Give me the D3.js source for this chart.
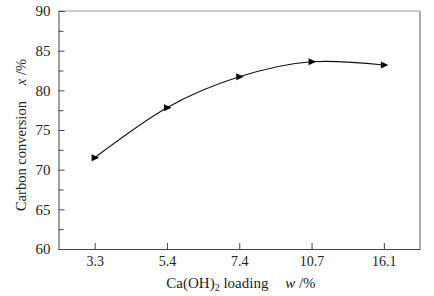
<!DOCTYPE html>
<html>
<head>
<meta charset="utf-8">
<script src="https://cdn.jsdelivr.net/npm/d3@7"></script>
<style>
  body { margin: 0; background: #fff; }
  text { font-family: "Liberation Serif", "Times New Roman", serif; fill: #222; }
</style>
</head>
<body>
<div class="chart"></div>
<script>
// values
const loadings = ['3.3', '5.4', '7.4', '10.7', '16.1'];
const conversion = [71.5, 77.8, 81.7, 83.6, 83.2];
const yTicks = [60, 65, 70, 75, 80, 85, 90];

const width = 434, height = 296;
const margin = {top: 11, right: 14, bottom: 47, left: 58.5};
const w = width - margin.left - margin.right;
const h = height - margin.top - margin.bottom;

const svg = d3.select('.chart')
  .append('svg')
    .attr('width', width)
    .attr('height', height);

const g = svg.append('g')
  .attr('transform', `translate(${margin.left}, ${margin.top})`);

const x = d3.scalePoint()
  .domain(loadings)
  .range([0, w])
  .padding(0.5);

const y = d3.scaleLinear()
  .domain([60, 90])
  .range([h, 0]);

// frame: top and right lighter
g.append('line').attr('x1', 0).attr('x2', w).attr('y1', 0).attr('y2', 0)
  .style('stroke', '#999').style('stroke-width', 1.2);
g.append('line').attr('x1', w).attr('x2', w).attr('y1', 0).attr('y2', h)
  .style('stroke', '#aaa').style('stroke-width', 2);

// y axis, ticks inward
const yAxis = g.append('g')
  .call(d3.axisLeft(y).tickValues(d3.range(60, 90.1, 2.5)).tickSize(-6).tickPadding(8)
    .tickFormat(d => yTicks.includes(d) ? d : ''));
yAxis.select('.domain').style('stroke', '#444');
yAxis.selectAll('.tick line').style('stroke', '#444')
  .attr('x2', d => yTicks.includes(d) ? 6 : 5);
yAxis.selectAll('.tick text')
  .attr('font-size', '15px')
  .style('font-family', '"Liberation Serif", serif')
  .attr('fill', '#222');

// x axis, ticks inward
const xAxis = g.append('g')
  .attr('transform', `translate(0, ${h})`)
  .call(d3.axisBottom(x).tickSize(-6).tickPadding(7).tickSizeOuter(0));
xAxis.select('.domain').style('stroke', '#444');
xAxis.selectAll('.tick line').style('stroke', '#444');
xAxis.selectAll('.tick text')
  .attr('font-size', '14px')
  .style('font-family', '"Liberation Serif", serif')
  .attr('fill', '#222');

// curve
const line = d3.line()
  .x((d, i) => x(loadings[i]))
  .y(d => y(d))
  .curve(d3.curveNatural);

g.append('path')
  .datum(conversion)
  .attr('d', line)
  .style('fill', 'none')
  .style('stroke', '#111')
  .style('stroke-width', 1.1);

// right-pointing triangle markers
g.selectAll('.marker')
  .data(conversion)
  .enter()
  .append('path')
    .attr('class', 'marker')
    .attr('transform', (d, i) => `translate(${x(loadings[i])}, ${y(d)})`)
    .attr('d', 'M-3,-3.5L4.5,0L-3,3.5Z')
    .style('fill', '#000');

// axis titles
const xt = svg.append('text')
  .attr('x', 241)
  .attr('y', 288)
  .attr('text-anchor', 'middle')
  .attr('font-size', '15px');
xt.append('tspan').text('Ca(OH)');
xt.append('tspan').attr('font-size', '10px').attr('dy', 3).text('2');
xt.append('tspan').attr('dy', -3).text(' loading ');
xt.append('tspan').attr('dx', 13).attr('font-style', 'italic').text('w');
xt.append('tspan').text(' /%');

const yt = svg.append('text')
  .attr('transform', `translate(26, ${margin.top + h / 2 + 5}) rotate(-90)`)
  .attr('text-anchor', 'middle')
  .attr('font-size', '14.5px');
yt.append('tspan').text('Carbon conversion');
yt.append('tspan').attr('dx', 16).attr('font-style', 'italic').text('x');
yt.append('tspan').text(' /%');
</script>
</body>
</html>
